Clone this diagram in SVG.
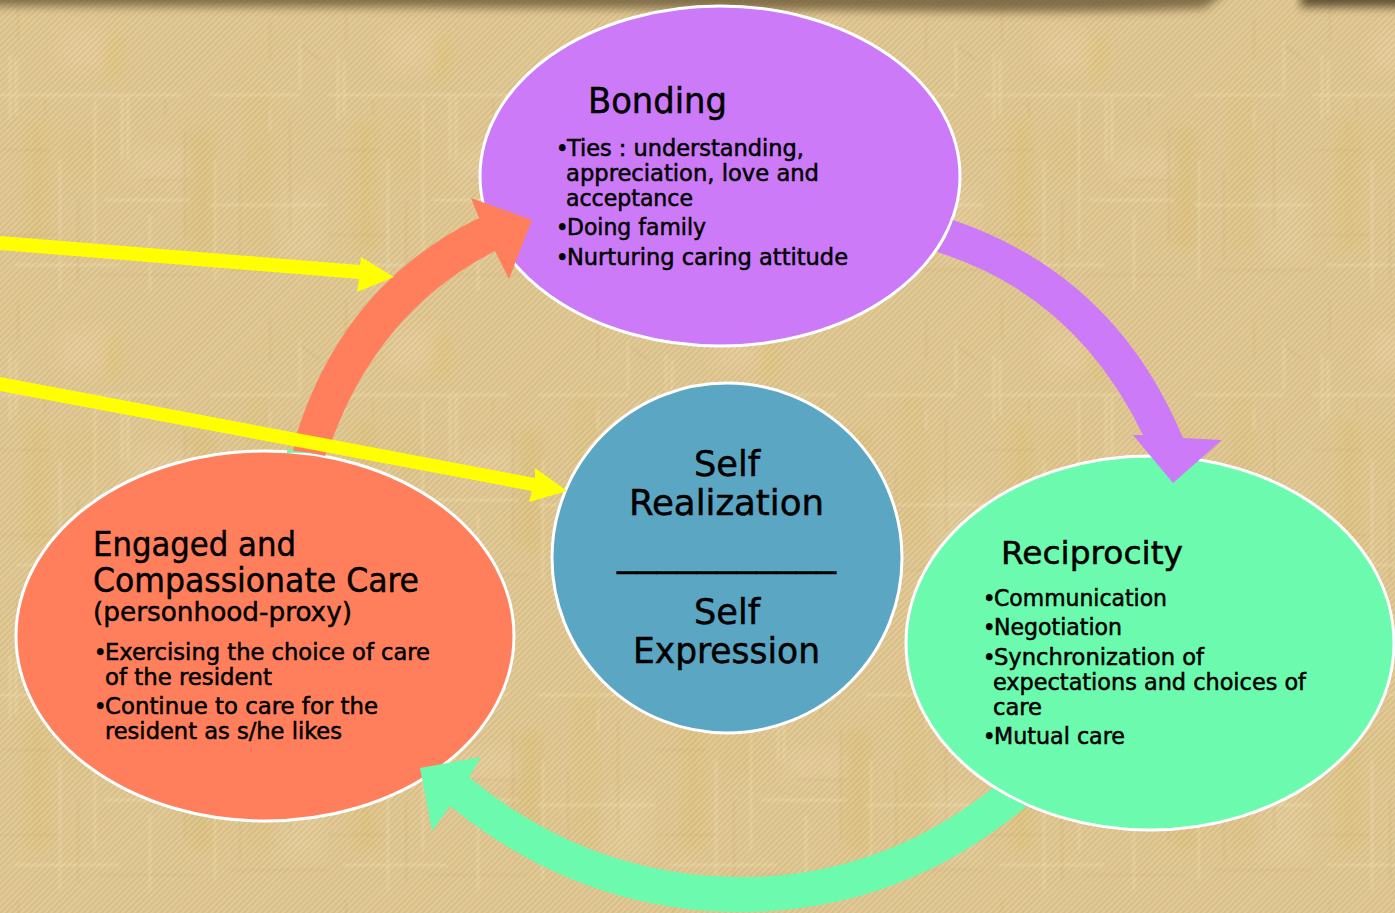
<svg xmlns="http://www.w3.org/2000/svg" width="1395" height="913" viewBox="0 0 1395 913">
<style>
.n{fill:#000;font-family:"DejaVu Sans Condensed","DejaVu Sans",sans-serif;font-weight:500}
.b{font-size:23.5px;stroke:#000;stroke-width:.5px}
.t{font-size:35px;stroke:#000;stroke-width:.45px}
.m{font-size:27px;stroke:#000;stroke-width:.45px}
.node{stroke:#fff;stroke-width:3}
</style>
<defs>
<pattern id="hatch" width="4.2" height="4.2" patternUnits="userSpaceOnUse" patternTransform="rotate(-45)">
<rect width="4.2" height="2.1" fill="#fff" opacity=".10"/>
<rect y="2.1" width="4.2" height="2.1" fill="#7a6030" opacity=".07"/>
</pattern>
<filter id="soft" x="-10%" y="-10%" width="120%" height="120%"><feGaussianBlur stdDeviation="1"/></filter>
<filter id="softer" x="-30%" y="-30%" width="160%" height="160%"><feGaussianBlur stdDeviation="7"/></filter>
<pattern id="weave" width="328" height="300" patternUnits="userSpaceOnUse">
<g filter="url(#softer)">
<rect x="105" y="35" width="14" height="42" fill="#d9bd5c" opacity=".45"/>
<rect x="25" y="120" width="24" height="130" fill="#d9bb68" opacity=".3"/>
<rect x="190" y="130" width="24" height="120" fill="#d5b560" opacity=".3"/>
<rect x="245" y="90" width="26" height="160" fill="#d9bc6c" opacity=".25"/>
<rect x="60" y="30" width="50" height="40" fill="#eecfa6" opacity=".3"/>
<rect x="130" y="150" width="60" height="30" fill="#efd3a8" opacity=".25"/>
<rect x="60" y="130" width="40" height="50" fill="#d8bf78" opacity=".25"/>
<rect x="280" y="190" width="40" height="70" fill="#efd4a8" opacity=".22"/>
</g>
<g filter="url(#soft)">
<g fill="none" stroke="#fbeec0" stroke-width="1.4" opacity=".42">
<path d="M10 55V120M16 60V115M95 100V250M122 95V160M128 95V160M215 160V280M270 60V130M0 95H180M210 95H300M105 200H190M210 205H328M15 265H120M150 215V290M60 160V290M300 40V90"/>
</g>
<g fill="none" stroke="#a88a4c" stroke-width="1.2" opacity=".24">
<path d="M45 100V115M165 100V115M185 130V240M270 20V110M290 120V230M0 235H60M140 180H190M100 275H200M230 270H328M300 45L320 60M18 0V40M78 200V280M240 170V260M0 150H50"/>
</g>
</g>
</pattern>
<filter id="blur" x="-5%" y="-200%" width="110%" height="500%">
<feGaussianBlur stdDeviation="5"/>
</filter>
</defs>

<g id="background">
<rect width="1395" height="913" fill="#dfc58e"/>
<rect width="1395" height="913" fill="url(#weave)"/>
<rect width="1395" height="913" fill="url(#hatch)"/>
<path d="M-20 -14H1235L1205 8Q1100 14 900 11T-20 6Z" fill="#5c4a2c" opacity=".7" filter="url(#blur)"/>
<path d="M1302 -10H1410V7H1300Z" fill="#4c3c24" opacity=".85" filter="url(#blur)"/>
</g>

<g id="node-bonding">
<ellipse class="node" cx="720" cy="176" rx="240" ry="170" fill="#cc7af8"/>
<text class="n t" x="588" y="113" textLength="139" lengthAdjust="spacingAndGlyphs">Bonding</text>
<text class="n b"><tspan x="556" y="156">•</tspan><tspan x="567" textLength="237" lengthAdjust="spacingAndGlyphs">Ties : understanding,</tspan></text>
<text class="n b" x="566" y="181" textLength="253" lengthAdjust="spacingAndGlyphs">appreciation, love and</text>
<text class="n b" x="566" y="206" textLength="127" lengthAdjust="spacingAndGlyphs">acceptance</text>
<text class="n b"><tspan x="556" y="235">•</tspan><tspan x="567" textLength="139" lengthAdjust="spacingAndGlyphs">Doing family</tspan></text>
<text class="n b"><tspan x="556" y="265">•</tspan><tspan x="567" textLength="281" lengthAdjust="spacingAndGlyphs">Nurturing caring attitude</tspan></text>
</g>

<g id="node-reciprocity">
<ellipse class="node" cx="1150" cy="643" rx="244" ry="187" fill="#6cfaae"/>
<text class="n m" x="1001" y="564" style="font-size:32px" textLength="182" lengthAdjust="spacingAndGlyphs">Reciprocity</text>
<text class="n b"><tspan x="983" y="606">•</tspan><tspan x="994" textLength="173" lengthAdjust="spacingAndGlyphs">Communication</tspan></text>
<text class="n b"><tspan x="983" y="635">•</tspan><tspan x="994" textLength="128" lengthAdjust="spacingAndGlyphs">Negotiation</tspan></text>
<text class="n b"><tspan x="983" y="665">•</tspan><tspan x="994" textLength="210" lengthAdjust="spacingAndGlyphs">Synchronization of</tspan></text>
<text class="n b" x="993" y="690" textLength="313" lengthAdjust="spacingAndGlyphs">expectations and choices of</text>
<text class="n b" x="993" y="715" textLength="49" lengthAdjust="spacingAndGlyphs">care</text>
<text class="n b"><tspan x="983" y="744">•</tspan><tspan x="994" textLength="131" lengthAdjust="spacingAndGlyphs">Mutual care</tspan></text>
</g>

<g id="node-care">
<ellipse class="node" cx="265" cy="636" rx="249" ry="185" fill="#ff7f5c"/>
<text class="n m" x="93" y="556" style="font-size:33px" textLength="203" lengthAdjust="spacingAndGlyphs">Engaged and</text>
<text class="n m" x="93" y="592" style="font-size:33px" textLength="326" lengthAdjust="spacingAndGlyphs">Compassionate Care</text>
<text class="n m" x="93" y="621" textLength="259" lengthAdjust="spacingAndGlyphs">(personhood-proxy)</text>
<text class="n b"><tspan x="94" y="660">•</tspan><tspan x="105" textLength="325" lengthAdjust="spacingAndGlyphs">Exercising the choice of care</tspan></text>
<text class="n b" x="105" y="685" textLength="167" lengthAdjust="spacingAndGlyphs">of the resident</text>
<text class="n b"><tspan x="94" y="714">•</tspan><tspan x="105" textLength="273" lengthAdjust="spacingAndGlyphs">Continue to care for the</tspan></text>
<text class="n b" x="105" y="739" textLength="237" lengthAdjust="spacingAndGlyphs">resident as s/he likes</text>
</g>

<g id="node-self">
<ellipse class="node" cx="727" cy="558" rx="175" ry="175" fill="#5ba6c3"/>
<text class="n t" x="694" y="476" textLength="66" lengthAdjust="spacingAndGlyphs">Self</text>
<text class="n t" x="629" y="515" textLength="195" lengthAdjust="spacingAndGlyphs">Realization</text>
<text class="n t" x="617" y="566" textLength="219" lengthAdjust="spacingAndGlyphs">___________</text>
<text class="n t" x="694" y="624" textLength="66" lengthAdjust="spacingAndGlyphs">Self</text>
<text class="n t" x="633" y="663" textLength="187" lengthAdjust="spacingAndGlyphs">Expression</text>
</g>

<g id="connectors">
<path d="M287 450Q305 447 322 450L322 455Q305 452 287 453Z" fill="#6cfaae"/>
<path id="arrow-care-bonding" d="M297 433Q345 283 479 218L471 198L532 220L509 279L495 251Q380 310 332 440L325 456Q310 452 293 451Z" fill="#ff7f5c"/>
<path id="arrow-bonding-reciprocity" d="M953 220Q1115 275 1183 438L1222 440L1173 483L1133 435L1143 435Q1075 295 937 252Q947 238 953 220Z" fill="#cc7af8"/>
<path id="arrow-reciprocity-care" d="M993 788Q880 877 741 877Q590 877 469 777L481 757L420 768L432 831L450 806Q580 912 741 912Q900 912 1027 806Q1008 798 993 788Z" fill="#6cfaae"/>
</g>

<g id="pointers" fill="#ff0">
<path id="pointer-1" d="M0 236L360 265L361 257L394 277L357 292L359 279L0 250Z"/>
<path id="pointer-2" d="M0 377L535 478L535 468L567 491L529 502L532 491L0 391Z"/>
</g>
</svg>
